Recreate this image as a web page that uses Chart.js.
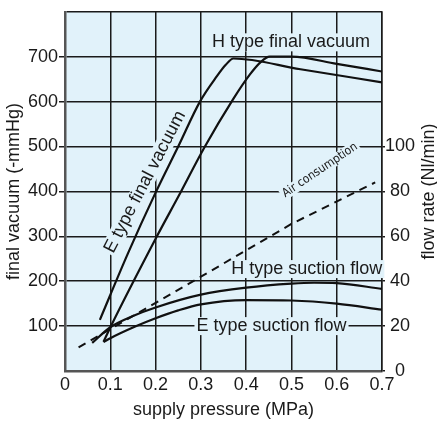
<!DOCTYPE html>
<html>
<head>
<meta charset="utf-8">
<script src="https://cdn.jsdelivr.net/npm/chart.js@4.4.1/dist/chart.umd.min.js"></script>
<style>
  html, body { margin: 0; padding: 0; background: #fff; }
  canvas { display: block; }
</style>
</head>
<body>
<canvas id="chart" width="437" height="426"></canvas>
<script>
// final vacuum (-mmHg) against supply pressure (MPa)
const eVacP = [0.077, 0.139, 0.199, 0.25, 0.298, 0.335, 0.355, 0.372, 0.52, 0.7];
const eVac  = [114, 262, 395, 500, 600, 656, 682, 696, 672, 643];
const hVacP = [0.085, 0.1, 0.203, 0.25, 0.309, 0.371, 0.408, 0.432, 0.452, 0.5, 0.6, 0.7];
const hVac  = [65, 97, 300, 388, 500, 605, 660, 688, 700, 700, 684, 667];

// flow rate (Nl/min) against supply pressure (MPa)
const hFlowP = [0.06, 0.1, 0.15, 0.2, 0.3, 0.4, 0.5, 0.55, 0.6, 0.7];
const hFlow  = [12.5, 19.5, 24.5, 28.3, 34, 37.1, 38.9, 39.3, 39.1, 36.6];
const eFlowP = [0.085, 0.1, 0.155, 0.2, 0.25, 0.3, 0.4, 0.5, 0.6, 0.7];
const eFlow  = [12.9, 14.6, 19.8, 23.5, 27, 29.7, 31.6, 31.4, 30, 27.3];
const airP = [0.03, 0.3, 0.5, 0.685];
const air  = [10.5, 42, 65.5, 84];

// tick labels
const pressureTicks = [0, 0.1, 0.2, 0.3, 0.4, 0.5, 0.6, 0.7];
const vacuumTicks = [100, 200, 300, 400, 500, 600, 700];
const flowTicks = [0, 20, 40, 60, 80, 100];

const ink = '#1a1a1a';
const plotBg = '#e1f2fa';
const family = "'Liberation Sans', Arial, Helvetica, sans-serif";
const font18 = { family, size: 18 };

const pairs = (xs, ys) => xs.map((x, i) => ({ x, y: ys[i] }));
const near = (list, v) => list.find(t => Math.abs(t - v) < 1e-6);

// in-plot captions, placed in pressure / vacuum units
const notes = [
  { text: 'H type final vacuum', x: 0.499, y: 732, angle: 0, size: 18 },
  { text: 'H type suction flow', x: 0.534, y: 227, angle: 0, size: 18 },
  { text: 'E type suction flow', x: 0.456, y: 100, angle: 0, size: 18 },
  { text: 'E type final vacuum', x: 0.1766, y: 421, angle: -62.6, size: 18 },
  { text: 'Air consumption', x: 0.563, y: 447, angle: -34, size: 12,
    family: "'Liberation Sans Narrow', 'DejaVu Sans Condensed', Arial, sans-serif" }
];

function drawNote(chart, n, mask) {
  const { ctx, scales } = chart;
  ctx.save();
  ctx.translate(scales.x.getPixelForValue(n.x), scales.y.getPixelForValue(n.y));
  ctx.rotate(n.angle * Math.PI / 180);
  ctx.font = n.size + 'px ' + (n.family || family);
  ctx.textAlign = 'center';
  ctx.textBaseline = 'middle';
  if (mask) {
    const w = ctx.measureText(n.text).width + 4;
    const h = n.size;
    ctx.fillStyle = plotBg;
    ctx.fillRect(-w / 2, -h / 2, w, h);
  } else {
    ctx.fillStyle = ink;
    ctx.fillText(n.text, 0, 0);
  }
  ctx.restore();
}

const decor = {
  id: 'decor',
  beforeDraw(chart) {
    const { ctx, chartArea: a } = chart;
    ctx.save();
    ctx.fillStyle = plotBg;
    ctx.fillRect(a.left, a.top, a.right - a.left, a.bottom - a.top);
    ctx.restore();
  },
  beforeDatasetsDraw(chart) { notes.forEach(n => drawNote(chart, n, true)); },
  afterDatasetsDraw(chart) { notes.forEach(n => drawNote(chart, n, false)); },
  afterDraw(chart) {
    // right axis title reads bottom to top, like the left one
    const { ctx, chartArea: a } = chart;
    ctx.save();
    ctx.translate(429, (a.top + a.bottom) / 2);
    ctx.rotate(-Math.PI / 2);
    ctx.font = '18px ' + family;
    ctx.fillStyle = ink;
    ctx.textAlign = 'center';
    ctx.textBaseline = 'middle';
    ctx.fillText('flow rate (Nl/min)', 0, 0);
    ctx.restore();
  }
};

const curve = (data, yAxisID) => ({
  data, yAxisID,
  borderColor: '#111', borderWidth: 2.2,
  pointRadius: 0, fill: false,
  cubicInterpolationMode: 'monotone'
});

const datasets = [
  curve(pairs(eVacP, eVac), 'y'),
  curve(pairs(hVacP, hVac), 'y'),
  curve(pairs(hFlowP, hFlow), 'y1'),
  curve(pairs(eFlowP, eFlow), 'y1'),
  Object.assign(curve(pairs(airP, air), 'y1'), {
    cubicInterpolationMode: 'default', tension: 0, borderWidth: 2, borderDash: [8, 6]
  })
];

new Chart(document.getElementById('chart'), {
  type: 'line',
  data: { datasets },
  plugins: [decor],
  options: {
    responsive: false,
    animation: false,
    devicePixelRatio: 1,
    layout: { padding: { top: 8, left: 0, right: 0, bottom: 0 } },
    plugins: { legend: { display: false }, tooltip: { enabled: false } },
    scales: {
      x: {
        type: 'linear', min: 0, max: 0.7,
        afterFit: s => { s.height = 55; },
        ticks: {
          stepSize: 0.1, autoSkip: false, maxRotation: 0, padding: 3,
          color: ink, font: font18,
          callback: v => {
            const t = near(pressureTicks, v);
            return t === undefined ? '' : (t === 0 ? '0' : t.toFixed(1));
          }
        },
        grid: { color: ink, lineWidth: 1.5, drawTicks: false },
        border: { color: '#555', width: 2.5 },
        title: { display: true, text: 'supply pressure (MPa)', color: ink, font: font18,
                 padding: { top: 0, bottom: 5 } }
      },
      y: {
        type: 'linear', position: 'left', min: 0, max: 800,
        afterFit: s => { s.width = 65; },
        ticks: {
          stepSize: 100, padding: 1, color: ink, font: font18,
          callback: v => near(vacuumTicks, v) === undefined ? '' : String(v)
        },
        grid: {
          color: ink, lineWidth: 1.5, tickLength: 6,
          tickColor: c => (c.tick && (c.tick.value === 0 || c.tick.value === 800)) ? 'rgba(0,0,0,0)' : ink
        },
        border: { color: '#555', width: 2.5 },
        title: { display: true, text: 'final vacuum (-mmHg)', color: ink, font: font18,
                 padding: { top: 3, bottom: 0 } }
      },
      y1: {
        type: 'linear', position: 'right', min: 0, max: 160,
        afterFit: s => { s.width = 55; },
        ticks: {
          stepSize: 20, padding: 0, crossAlign: 'center', color: ink, font: font18,
          callback: v => near(flowTicks, v) === undefined ? '' : String(v)
        },
        grid: {
          drawOnChartArea: false, color: ink, lineWidth: 1.5, tickLength: 3,
          tickColor: c => (c.tick && c.tick.value > 100) ? 'rgba(0,0,0,0)' : ink
        },
        border: { color: ink, width: 1.5 }
      }
    }
  }
});
</script>
</body>
</html>
